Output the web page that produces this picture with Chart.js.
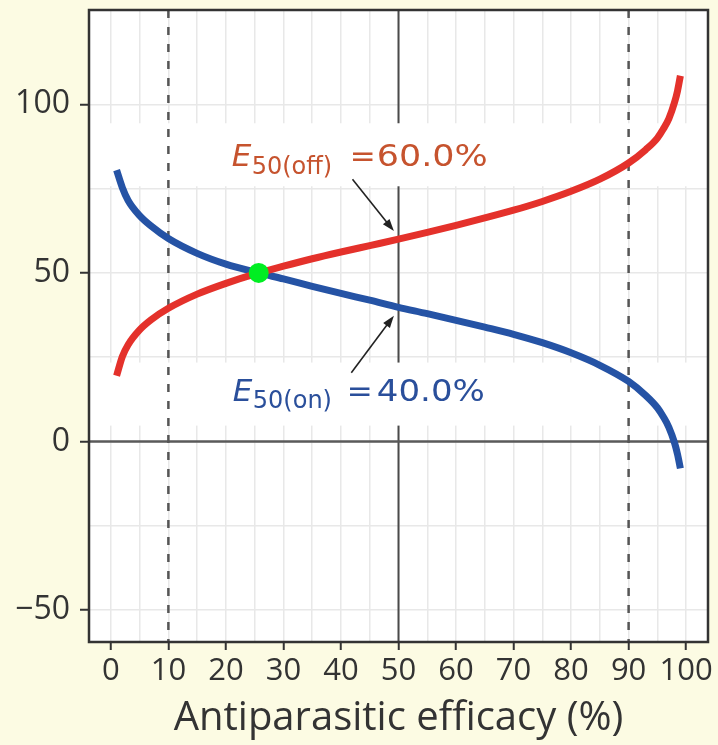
<!DOCTYPE html>
<html><head><meta charset="utf-8">
<script src="https://cdn.jsdelivr.net/npm/chart.js@4.4.1/dist/chart.umd.min.js"></script>
<style>html,body{margin:0;padding:0;background:#fcfbe3;}canvas{display:block}</style>
</head><body>
<canvas id="c" width="718" height="745"></canvas>
<script>
// ---- data ----
const efficacy  = [1, 2, 3, 5, 7, 10, 15, 20, 25.7, 30, 35, 40, 45, 50, 55, 60, 65, 70, 75, 80, 85, 90, 93, 95, 96, 97, 98, 98.5, 99];
const offValues = [19.5, 25.2, 28.7, 33.1, 36.1, 39.5, 43.7, 46.9, 50, 52.0, 54.2, 56.2, 58.1, 60, 62.0, 64.1, 66.3, 68.6, 71.2, 74.2, 77.8, 82.6, 86.6, 90.0, 92.6, 95.8, 100.7, 104.0, 108.5];
const onValues  = [80.5, 75.3, 71.5, 67.0, 63.9, 60.2, 55.8, 52.6, 50, 48.2, 46.0, 43.9, 41.9, 39.8, 37.9, 35.9, 33.9, 31.8, 29.3, 26.3, 22.6, 17.8, 13.6, 10.0, 7.4, 4.2, -0.5, -3.8, -8];
const crossing  = [{x: 25.7, y: 50}];
const xTicks = [0, 10, 20, 30, 40, 50, 60, 70, 80, 90, 100];
const xMinor = [5, 15, 25, 35, 45, 55, 65, 75, 85, 95];
const yTicks = [-50, 0, 50, 100];
const yMinor = [-25, 25, 75];
const dashedAt = [10, 90];
const solidAt = 50;
const bands = [[75.7, 94.4], [4.7, 23.4]];
const annotations = [
  {x: 21.0, y: 81.7, sub: '50(off)', value: '60.0%', color: '#c6532e', subDy: 8, eqDx: 118, valDx: 145, valW: 111},
  {x: 21.2, y: 12.1, sub: '50(on)',  value: '40.0%', color: '#2a4f9b', subDy: 7, eqDx: 114, valDx: 144, valW: 108}
];
const arrows = [
  {from: [42.0, 77.8], to: [49.2, 62.4]},
  {from: [41.8, 20.4], to: [49.2, 37.3]}
];

const fmt = v => (v < 0 ? '\u2212' + Math.abs(v) : String(v));

const decor = {
  id: 'decor',
  beforeDraw(chart) {
    const {ctx, chartArea: a} = chart;
    ctx.save();
    ctx.fillStyle = '#fcfbe3';
    ctx.fillRect(0, 0, chart.width, chart.height);
    ctx.fillStyle = '#ffffff';
    ctx.fillRect(a.left, a.top, a.right - a.left, a.bottom - a.top);
    ctx.restore();
  },
  beforeDatasetsDraw(chart) {
    const {ctx, chartArea: a, scales: {x, y}} = chart;
    ctx.save();
    ctx.beginPath(); ctx.rect(a.left, a.top, a.right - a.left, a.bottom - a.top); ctx.clip();
    ctx.strokeStyle = '#4a4a4a'; ctx.lineWidth = 2;
    const px = x.getPixelForValue(solidAt);
    ctx.beginPath(); ctx.moveTo(px, a.top); ctx.lineTo(px, a.bottom); ctx.stroke();
    ctx.strokeStyle = '#5a5a5a'; ctx.lineWidth = 2.5;
    const py0 = y.getPixelForValue(0);
    ctx.beginPath(); ctx.moveTo(a.left, py0); ctx.lineTo(a.right, py0); ctx.stroke();
    ctx.fillStyle = '#ffffff';
    bands.forEach(([lo, hi]) => {
      const t = y.getPixelForValue(hi), b = y.getPixelForValue(lo);
      ctx.fillRect(a.left, t, a.right - a.left, b - t);
    });
    ctx.setLineDash([8, 9]); ctx.strokeStyle = '#555'; ctx.lineWidth = 2.5;
    dashedAt.forEach(v => {
      const p = x.getPixelForValue(v);
      ctx.beginPath(); ctx.moveTo(p, a.top); ctx.lineTo(p, a.bottom); ctx.stroke();
    });
    ctx.restore();
  },
  afterDraw(chart) {
    const {ctx, chartArea: a, scales: {x, y}} = chart;
    ctx.save();
    arrows.forEach(({from, to}) => {
      const x1 = x.getPixelForValue(from[0]), y1 = y.getPixelForValue(from[1]);
      const x2 = x.getPixelForValue(to[0]), y2 = y.getPixelForValue(to[1]);
      const ang = Math.atan2(y2 - y1, x2 - x1), hl = 13;
      ctx.strokeStyle = '#222'; ctx.fillStyle = '#222'; ctx.lineWidth = 1.6;
      ctx.beginPath(); ctx.moveTo(x1, y1);
      ctx.lineTo(x2 - hl * 0.8 * Math.cos(ang), y2 - hl * 0.8 * Math.sin(ang)); ctx.stroke();
      ctx.beginPath(); ctx.moveTo(x2, y2);
      ctx.lineTo(x2 - hl * Math.cos(ang - 0.33), y2 - hl * Math.sin(ang - 0.33));
      ctx.lineTo(x2 - hl * Math.cos(ang + 0.33), y2 - hl * Math.sin(ang + 0.33));
      ctx.closePath(); ctx.fill();
    });
    annotations.forEach(L => {
      const ax = x.getPixelForValue(L.x), ay = y.getPixelForValue(L.y);
      ctx.fillStyle = L.color; ctx.textAlign = 'left'; ctx.textBaseline = 'alphabetic';
      ctx.font = 'italic 31px "DejaVu Sans"'; ctx.fillText('E', ax, ay);
      ctx.font = '24px "DejaVu Sans"'; ctx.fillText(L.sub, ax + 20, ay + L.subDy);
      ctx.font = '31px "DejaVu Sans"'; ctx.fillText('=', ax + L.eqDx, ay);
      const w = ctx.measureText(L.value).width;
      ctx.save(); ctx.translate(ax + L.valDx, ay); ctx.scale(L.valW / w, 1);
      ctx.fillText(L.value, 0, 0); ctx.restore();
    });
    ctx.strokeStyle = '#333'; ctx.lineWidth = 2.5;
    ctx.strokeRect(a.left, a.top, a.right - a.left, a.bottom - a.top);
    ctx.restore();
  }
};

const zeroPad = s => { s.paddingTop = 0; s.paddingBottom = 0; s.paddingLeft = 0; s.paddingRight = 0; };

new Chart(document.getElementById('c'), {
  type: 'line',
  data: {
    datasets: [
      {label: 'E50(on)', data: efficacy.map((v, i) => ({x: v, y: onValues[i]})), borderColor: '#2553a5', borderWidth: 7, pointRadius: 0, cubicInterpolationMode: 'monotone', fill: false, borderCapStyle: 'butt', order: 3},
      {label: 'E50(off)', data: efficacy.map((v, i) => ({x: v, y: offValues[i]})), borderColor: '#e4312b', borderWidth: 7, pointRadius: 0, cubicInterpolationMode: 'monotone', fill: false, borderCapStyle: 'butt', order: 2},
      {type: 'scatter', label: 'crossing', data: crossing, pointRadius: 10, backgroundColor: '#00ee22', borderWidth: 0, order: 1}
    ]
  },
  options: {
    responsive: false, animation: false, events: [],
    layout: {padding: {top: 8, right: 9, left: 0, bottom: 0}},
    plugins: {legend: {display: false}, tooltip: {enabled: false}},
    scales: {
      x: {
        type: 'linear', min: -3.8, max: 103.8,
        afterBuildTicks: s => { s.ticks = xTicks.concat(xMinor).sort((a, b) => a - b).map(v => ({value: v})); },
        afterFit: s => { s.height = 103; zeroPad(s); },
        ticks: {autoSkip: false, maxRotation: 0, minRotation: 0, padding: 3, color: '#333', font: {family: 'Open Sans', size: 31},
                callback: v => xTicks.includes(v) ? fmt(v) : ''},
        grid: {color: '#e8e8e8', lineWidth: 1.5, tickLength: 8, tickWidth: 2,
               tickColor: c => (c.tick && xTicks.includes(c.tick.value)) ? '#333' : 'rgba(0,0,0,0)'},
        border: {display: false},
        title: {display: true, text: 'Antiparasitic efficacy (%)', color: '#333', font: {family: 'Open Sans', size: 40}, padding: {top: 0, bottom: 2}}
      },
      y: {
        type: 'linear', min: -59.5, max: 128,
        afterBuildTicks: s => { s.ticks = yTicks.concat(yMinor).sort((a, b) => a - b).map(v => ({value: v})); },
        afterFit: s => { s.width = 89; zeroPad(s); },
        ticks: {autoSkip: false, padding: 10, color: '#333', font: {family: 'Open Sans', size: 32},
                callback: v => yTicks.includes(v) ? fmt(v) : ''},
        grid: {color: '#e8e8e8', lineWidth: 1.5, tickLength: 9, tickWidth: 2,
               tickColor: c => (c.tick && yTicks.includes(c.tick.value)) ? '#333' : 'rgba(0,0,0,0)'},
        border: {display: false}
      }
    }
  },
  plugins: [decor]
});
</script>
</body></html>
